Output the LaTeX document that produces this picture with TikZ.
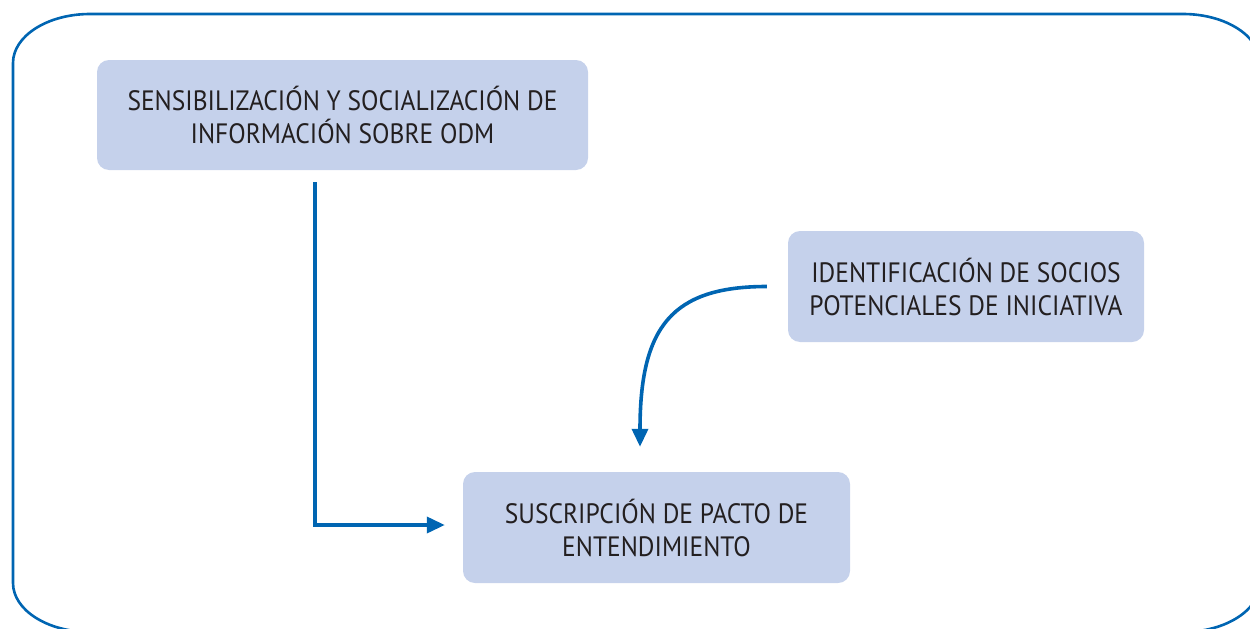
\documentclass[tikz,border=0pt]{standalone}
\usepackage{fontspec}
\setmainfont[FakeStretch=0.91]{PT Sans}
\usetikzlibrary{arrows.meta}
\definecolor{frameblue}{RGB}{0,101,178}
\definecolor{boxfill}{RGB}{197,209,235}
\definecolor{txt}{RGB}{35,31,32}
\tikzset{
  stage/.style={fill=boxfill, rounded corners=12pt, align=center, text=txt,
    font=\fontsize{28}{33}\selectfont, inner sep=0pt},
  flow/.style={draw=frameblue, line width=3.6pt, -{Triangle[length=18pt,width=16pt]}},
}
\begin{document}
\begin{tikzpicture}[x=1pt,y=-1pt]
\useasboundingbox (0,0) rectangle (1250,629);
\begin{scope}
\clip (0,0) rectangle (1250,629);
\draw[frameblue, line width=2.6pt]
  (13,63) .. controls (13,36) and (47.5,14) .. (90,14)
  -- (1183,14) .. controls (1225.5,14) and (1260,36) .. (1260,63)
  -- (1260,583) .. controls (1260,610) and (1225.5,632) .. (1183,632)
  -- (90,632) .. controls (47.5,632) and (13,610) .. (13,583) -- cycle;
\end{scope}
\node[stage, minimum width=491pt, minimum height=110pt] (b1) at (342.5,115)
  {SENSIBILIZACIÓN Y SOCIALIZACIÓN DE\\INFORMACIÓN SOBRE ODM};
\node[stage, minimum width=356pt, minimum height=111pt] (b2) at (966,286.5)
  {IDENTIFICACIÓN DE SOCIOS\\POTENCIALES DE INICIATIVA};
\node[stage, minimum width=387pt, minimum height=111pt] (b3) at (656.5,527.5)
  {SUSCRIPCIÓN DE PACTO DE\\ENTENDIMIENTO};
\draw[flow] ([xshift=-27.5pt,yshift=-12pt]b1.south) |- ([xshift=-18pt,yshift=2.5pt]b3.west);
\draw[flow] ([xshift=-21pt]b2.west) .. controls +(-95,0) and +(0,-120) .. ([xshift=-16.5pt,yshift=25pt]b3.north);
\end{tikzpicture}
\end{document}
